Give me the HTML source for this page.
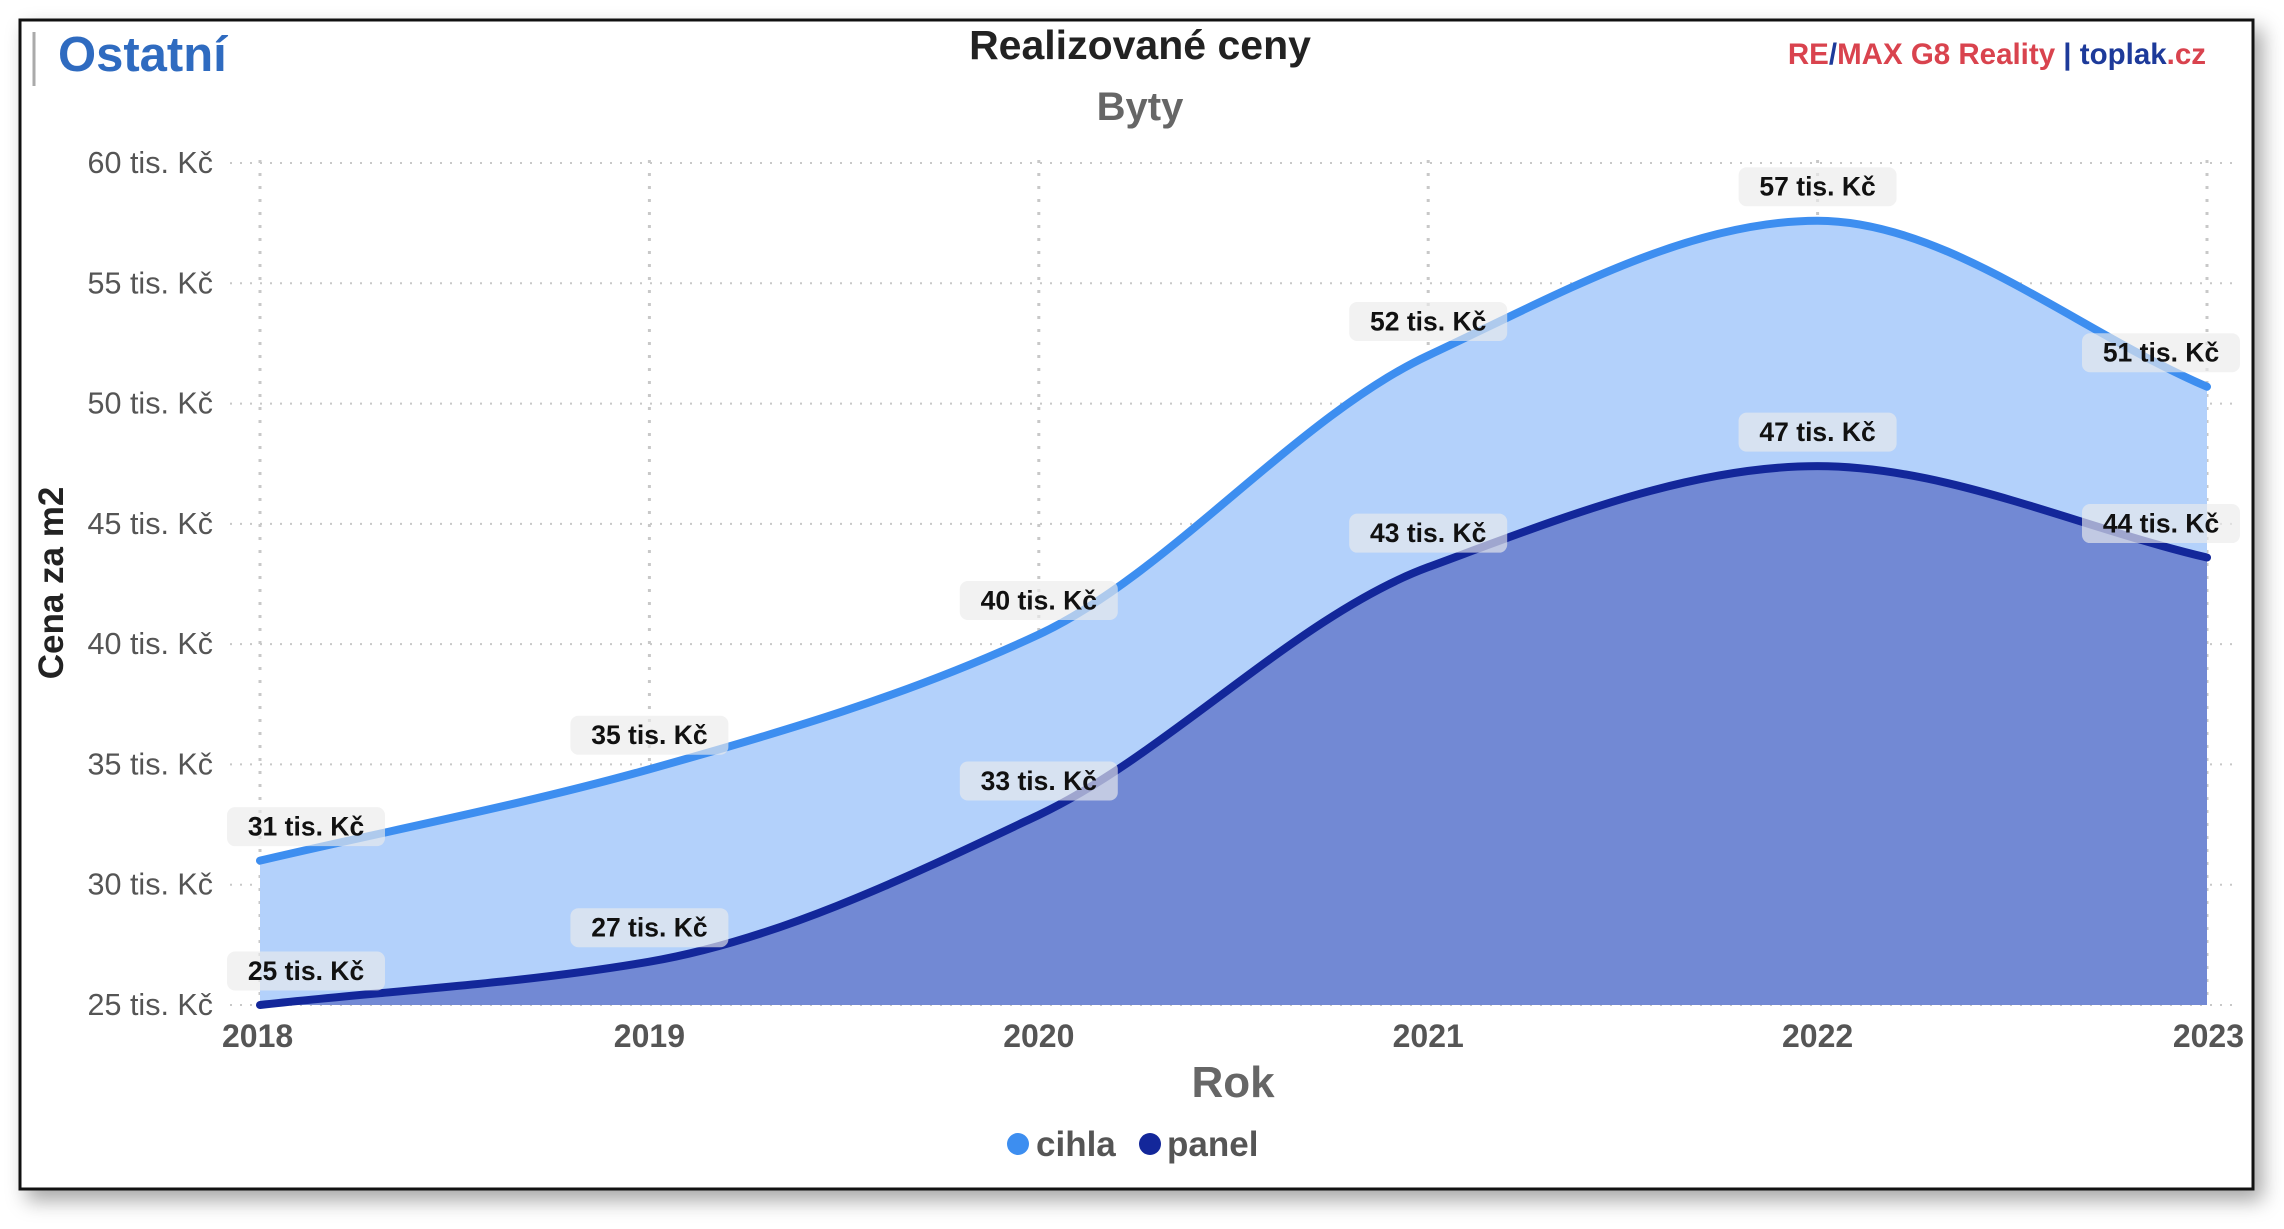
<!DOCTYPE html>
<html><head><meta charset="utf-8">
<style>
html,body{margin:0;padding:0;background:#fff;}
body{width:2284px;height:1224px;overflow:hidden;font-family:"Liberation Sans",sans-serif;}
</style></head>
<body>
<svg id="chart" width="2284" height="1224" xmlns="http://www.w3.org/2000/svg" font-family="Liberation Sans, sans-serif">
<defs>
<filter id="sh" x="-5%" y="-5%" width="110%" height="115%"><feDropShadow dx="8" dy="10" stdDeviation="10" flood-color="#000" flood-opacity="0.35"/></filter>
<clipPath id="plotclip"><rect x="226" y="140" width="2020" height="866"/></clipPath>
</defs>
<rect x="20" y="20" width="2233" height="1169" fill="#fff" stroke="#111" stroke-width="3" filter="url(#sh)"/>
<rect x="20" y="20" width="2233" height="1169" fill="none" stroke="#111" stroke-width="3"/>
<line x1="34" y1="32" x2="34" y2="86" stroke="#aaa" stroke-width="3"/>
<text x="58" y="71" font-size="49" font-weight="bold" fill="#2f6bc0">Ostatní</text>
<text x="1140" y="59" font-size="41" font-weight="bold" fill="#222" text-anchor="middle">Realizované ceny</text>
<text x="1140" y="120" font-size="40" font-weight="bold" fill="#666" text-anchor="middle">Byty</text>
<text x="2206" y="64" font-size="29.5" font-weight="bold" text-anchor="end"><tspan fill="#d9434e">RE</tspan><tspan fill="#1d3a9a">/</tspan><tspan fill="#d9434e">MAX G8 Reality</tspan><tspan fill="#1d3a9a"> | toplak</tspan><tspan fill="#d9434e">.cz</tspan></text>
<g id="grid"></g>
<g id="areas" clip-path="url(#plotclip)"></g>
<g id="lines"></g>
<g id="labels"></g>
<g id="axes"></g>
<text transform="translate(63,583) rotate(-90)" font-size="35" font-weight="bold" fill="#222" text-anchor="middle">Cena za m2</text>
<text x="1233" y="1097" font-size="44" font-weight="bold" fill="#666" text-anchor="middle">Rok</text>
<g>
<circle cx="1018" cy="1144" r="11" fill="#3d8ef0"/>
<text x="1036" y="1156" font-size="35" font-weight="bold" fill="#555">cihla</text>
<circle cx="1150" cy="1144" r="11" fill="#13279a"/>
<text x="1167" y="1156" font-size="35" font-weight="bold" fill="#555">panel</text>
</g>
</svg>
<script>
const years = [2018, 2019, 2020, 2021, 2022, 2023];
const cihla = [31, 34.8, 40.4, 52, 57.6, 50.7];
const panel = [25, 26.8, 32.9, 43.2, 47.4, 43.6];
const cihlaLabels = ['31 tis. Kč', '35 tis. Kč', '40 tis. Kč', '52 tis. Kč', '57 tis. Kč', '51 tis. Kč'];
const panelLabels = ['25 tis. Kč', '27 tis. Kč', '33 tis. Kč', '43 tis. Kč', '47 tis. Kč', '44 tis. Kč'];
const yTicks = [25, 30, 35, 40, 45, 50, 55, 60];
const NS = 'http://www.w3.org/2000/svg';
const X0 = 260, X1 = 2207, Y0 = 1005, Y1 = 163;
function xs(i){ return X0 + (X1 - X0) * i / (years.length - 1); }
function ys(v){ return Y0 - (v - 25) / 35 * (Y0 - Y1); }
function mk(tag, attrs, parent){ const e = document.createElementNS(NS, tag); for (const k in attrs) e.setAttribute(k, attrs[k]); parent.appendChild(e); return e; }
function monotone(pts){
  const n = pts.length, d = [], m = [];
  for (let i = 0; i < n - 1; i++) d.push((pts[i+1][1] - pts[i][1]) / (pts[i+1][0] - pts[i][0]));
  m[0] = d[0]; m[n-1] = d[n-2];
  for (let i = 1; i < n - 1; i++) m[i] = (d[i-1] * d[i] <= 0) ? 0 : 2 / (1 / d[i-1] + 1 / d[i]);
  let s = 'M' + pts[0][0] + ',' + pts[0][1];
  for (let i = 0; i < n - 1; i++) {
    const h = (pts[i+1][0] - pts[i][0]) / 3;
    s += ' C' + (pts[i][0] + h) + ',' + (pts[i][1] + m[i] * h) + ' ' + (pts[i+1][0] - h) + ',' + (pts[i+1][1] - m[i+1] * h) + ' ' + pts[i+1][0] + ',' + pts[i+1][1];
  }
  return s;
}
const grid = document.getElementById('grid');
const axes = document.getElementById('axes');
yTicks.forEach(t => {
  const l = mk('line', {x1: 230, x2: 2240, y1: ys(t), y2: ys(t), stroke: '#c8c8c8', 'stroke-width': 2, 'stroke-dasharray': '2 8'}, grid);
  
  
  const tx = mk('text', {x: 213, y: ys(t) + 10, 'font-size': 30.5, fill: '#555', 'text-anchor': 'end'}, axes);
  
  
  tx.textContent = t + ' tis. Kč';
});
years.forEach((yr, i) => {
  const l = mk('line', {x1: xs(i), x2: xs(i), y1: 160, y2: 1005, stroke: '#c8c8c8', 'stroke-width': 3, 'stroke-dasharray': '3 10'}, grid);
  
  
  const anchor = i === 0 ? 'start' : (i === years.length - 1 ? 'end' : 'middle');
  const xx = i === 0 ? xs(i) - 38 : (i === years.length - 1 ? xs(i) + 37 : xs(i));
  const tx = mk('text', {x: xx, y: 1047, 'font-size': 32, 'font-weight': 'bold', fill: '#555', 'text-anchor': anchor}, axes);
  
  
  tx.textContent = yr;
});
const areas = document.getElementById('areas');
const lines = document.getElementById('lines');
const labels = document.getElementById('labels');
function series(vals, fill, stroke, name){
  const pts = vals.map((v, i) => [xs(i), ys(v)]);
  const p = monotone(pts);
  const a = mk('path', {d: p + ' L' + xs(vals.length - 1) + ',' + Y0 + ' L' + X0 + ',' + Y0 + ' Z', fill: fill}, areas);
  
  
  const ln = mk('path', {d: p, fill: 'none', stroke: stroke, 'stroke-width': 8, 'stroke-linecap': 'round'}, lines);
  
  
}
series(cihla, '#b3d1fb', '#3d8ef0', 'cihla');
series(panel, '#7289d4', '#13279a', 'panel');
function addLabels(vals, texts, name){
  vals.forEach((v, i) => {
    const w = 158, h = 39;
    let cx = xs(i);
    cx = Math.max(227 + w / 2, Math.min(2240 - w / 2, cx));
    const cy = ys(v) - 34;
    const g = mk('g', {}, labels);
    
    
    mk('rect', {x: cx - w / 2, y: cy - h / 2, width: w, height: h, rx: 8, fill: 'rgba(235,235,235,0.65)'}, g);
    const t = mk('text', {x: cx, y: cy + 9, 'font-size': 26.5, 'font-weight': 'bold', fill: '#111', 'text-anchor': 'middle'}, g);
    t.textContent = texts[i];
  });
}
addLabels(cihla, cihlaLabels, 'cihla');
addLabels(panel, panelLabels, 'panel');
</script>
</body></html>
